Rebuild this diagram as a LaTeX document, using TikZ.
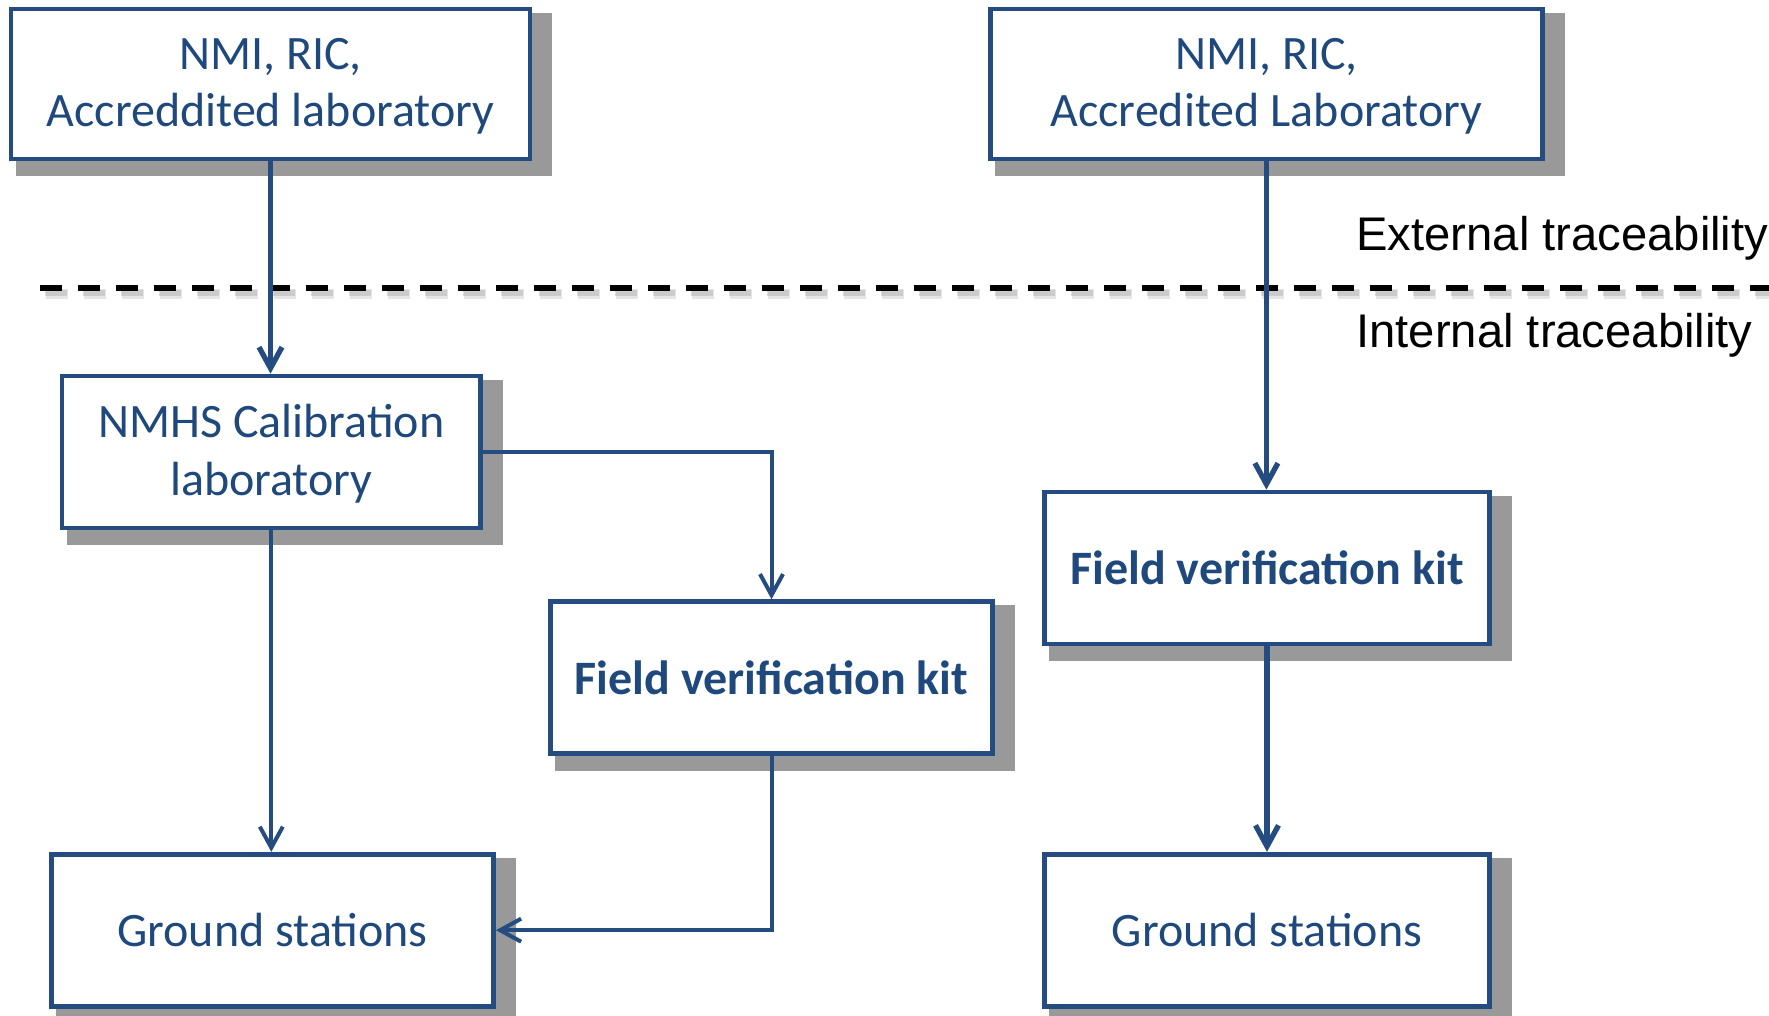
\documentclass[tikz,border=0pt]{standalone}
\usepackage{fontspec}
\setmainfont{Carlito}
\newfontfamily\labelfont{Liberation Sans}
\usetikzlibrary{arrows.meta,calc,backgrounds}

\definecolor{boxblue}{RGB}{36,76,128}
\definecolor{textblue}{RGB}{31,73,125}
\definecolor{shadowgray}{RGB}{153,153,153}

\tikzset{
  box/.style={draw=boxblue, line width=2.35pt, fill=white, text=textblue,
    align=center, inner sep=0pt, minimum height=76pt,
    font=\fontsize{24}{28.8}\selectfont},
  % fixed extent of a two-line label, measured from its last baseline
  twoline/.style={text height=48pt, text depth=5pt},
  link/.style={draw=boxblue, line width=2.65pt,
    -{Straight Barb[length=10.5pt,width=11.5pt]}},
  thinlink/.style={link, line width=2pt},
  level/.style={text=black, inner sep=0pt, anchor=base west,
    font=\labelfont\fontsize{23.6}{28}\selectfont},
  divider/.style={line width=3pt, dash pattern=on 11pt off 8pt},
}

% drop shadow behind a box
\newcommand\boxshadow[1]{%
  \fill[shadowgray] ($(#1.north west)+(7,6)$) rectangle ($(#1.south east)+(20,15)$);}

\begin{document}
\begin{tikzpicture}[x=0.5pt, y=-0.5pt]
\useasboundingbox (0,0) rectangle (1769,1016);

% boxes
\node[box, twoline, minimum width=259.5pt, minimum height=75pt] (A) at (270.5,84)
  {NMI, RIC,\\Accreddited laboratory};
\node[box, twoline, minimum width=275.8pt, minimum height=75pt] (B) at (1266.4,84)
  {NMI, RIC,\\Accredited Laboratory};
\node[box, twoline, minimum width=209.3pt] (C) at (271.3,452)
  {NMHS Calibration\\laboratory};
\node[box, minimum width=220.9pt] (D) at (771.5,677.6)
  {\bfseries Field verification kit};
\node[box, minimum width=222.3pt] (E) at (1267,568)
  {\bfseries Field verification kit};
\node[box, minimum width=221pt] (F) at (272.6,930.2) {Ground stations};
\node[box, minimum width=222.3pt] (G) at (1267,930.2) {Ground stations};

\begin{scope}[on background layer]
  \foreach \n in {A,B,C,D,E,F,G} {\boxshadow{\n}}
\end{scope}

% boundary between external and internal traceability, with a soft shadow
\coordinate (divL) at (39.5,288);
\coordinate (divR) at (1769,288);
\draw[divider, shadowgray, opacity=0.25, line width=5pt]
  ($(divL)+(6,6)$) -- ($(divR)+(6,6)$);
\draw[divider, shadowgray, opacity=0.35, line width=3pt]
  ($(divL)+(5,5)$) -- ($(divR)+(5,5)$);
\draw[divider, black] (divL) -- (divR);

\node[level] (ext) at (1356,250.5) {External traceability};
\node[level] (int) at (1356,348) {Internal traceability};

% connectors
\draw[link] (A.south) -- (A.south |- C.north);
\draw[link] (B.south) -- (B.south |- E.north);
\draw[link] (E.south) -- (E.south |- G.north);
\draw[thinlink] (C.south) -- (C.south |- F.north);
\draw[thinlink] (C.east) -| (D.north);
\draw[thinlink] (D.south) |- (F.east);
\end{tikzpicture}
\end{document}
